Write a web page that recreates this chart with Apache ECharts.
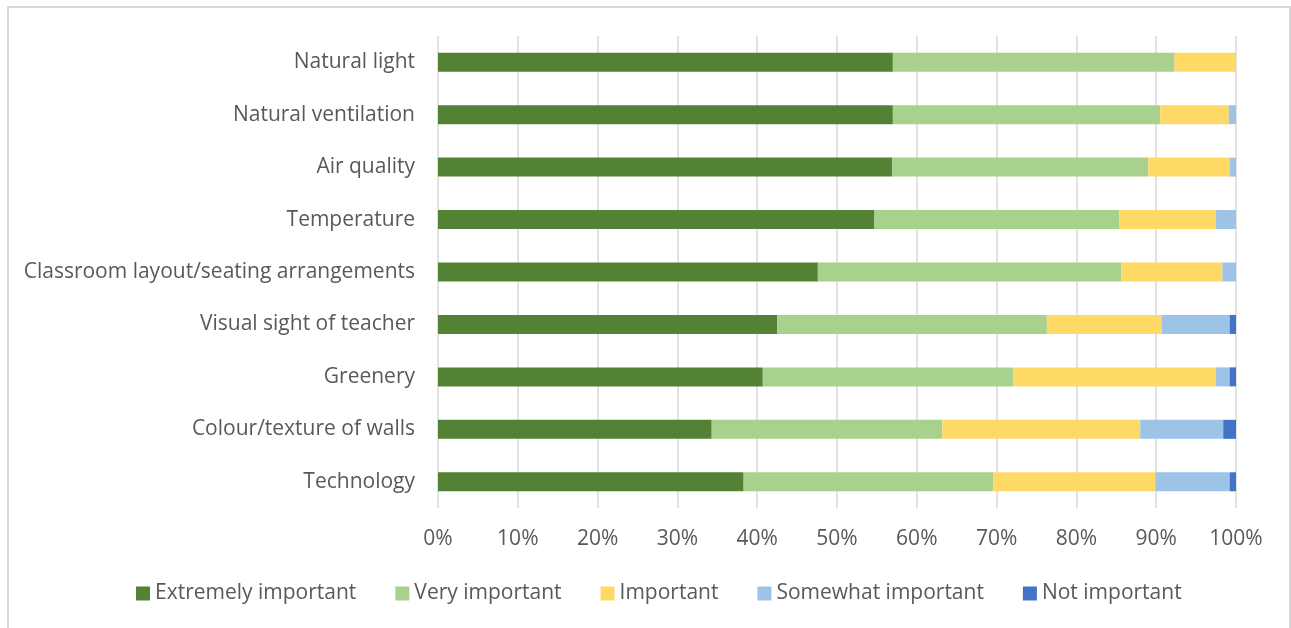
<!DOCTYPE html>
<html>
<head>
<meta charset="utf-8">
<script src="https://cdn.jsdelivr.net/npm/echarts@6/dist/echarts.min.js"></script>
<style>
  html, body { margin: 0; padding: 0; background: #fff; }
  #chart { width: 1291px; height: 628px; }
</style>
</head>
<body>
<div id="chart"></div>
<script>
// categories listed bottom to top (category axis starts at the bottom)
const categories = [
  "Technology",
  "Colour/texture of walls",
  "Greenery",
  "Visual sight of teacher",
  "Classroom layout/seating arrangements",
  "Temperature",
  "Air quality",
  "Natural ventilation",
  "Natural light"
];

// percentages per level, same order as categories
const extremelyImportant = [38.3, 34.3, 40.7, 42.5, 47.6, 54.7, 56.9, 57.0, 57.0];
const veryImportant      = [31.3, 28.9, 31.4, 33.8, 38.0, 30.7, 32.1, 33.5, 35.3];
const important          = [20.3, 24.8, 25.4, 14.4, 12.7, 12.1, 10.2, 8.6, 7.7];
const somewhatImportant  = [9.3, 10.4, 1.7, 8.5, 1.7, 2.5, 0.8, 0.9, 0];
const notImportant       = [0.8, 1.6, 0.8, 0.8, 0, 0, 0, 0, 0];

const seriesNames = ["Extremely important", "Very important", "Important", "Somewhat important", "Not important"];
const seriesData = [extremelyImportant, veryImportant, important, somewhatImportant, notImportant];
const colors = ["#548235", "#A9D18E", "#FFD966", "#9DC3E6", "#4472C4"];

const fontFamily = "Open Sans";

const chart = echarts.init(document.getElementById("chart"));

chart.setOption({
  animation: false,
  textStyle: { fontFamily: fontFamily },
  graphic: [
    {
      type: "rect",
      shape: { x: 8, y: 7, width: 1282, height: 700 },
      style: { fill: "none", stroke: "#d9d9d9", lineWidth: 2 },
      silent: true
    }
  ],
  grid: {
    left: 438,
    right: 55,
    top: 36,
    bottom: 120
  },
  legend: {
    bottom: 19,
    left: 131,
    itemWidth: 14,
    itemHeight: 14,
    itemGap: 39,
    icon: "rect",
    textStyle: {
      fontFamily: fontFamily,
      fontSize: 21,
      color: "#595959"
    },
    data: seriesNames
  },
  xAxis: {
    type: "value",
    min: 0,
    max: 100,
    interval: 10,
    axisLine: { show: false },
    axisTick: { show: false },
    splitLine: { lineStyle: { color: "#d9d9d9", width: 1.5 } },
    axisLabel: {
      formatter: "{value}%",
      fontFamily: fontFamily,
      fontSize: 21,
      color: "#595959",
      margin: 21
    }
  },
  yAxis: {
    type: "category",
    data: categories,
    axisLine: { show: false },
    axisTick: { show: false },
    axisLabel: {
      fontFamily: fontFamily,
      fontSize: 21,
      color: "#595959",
      margin: 23
    }
  },
  series: seriesData.map(function (values, i) {
    return {
      name: seriesNames[i],
      type: "bar",
      stack: "total",
      barWidth: 19,
      data: values,
      itemStyle: { color: colors[i] }
    };
  })
});
</script>
</body>
</html>
